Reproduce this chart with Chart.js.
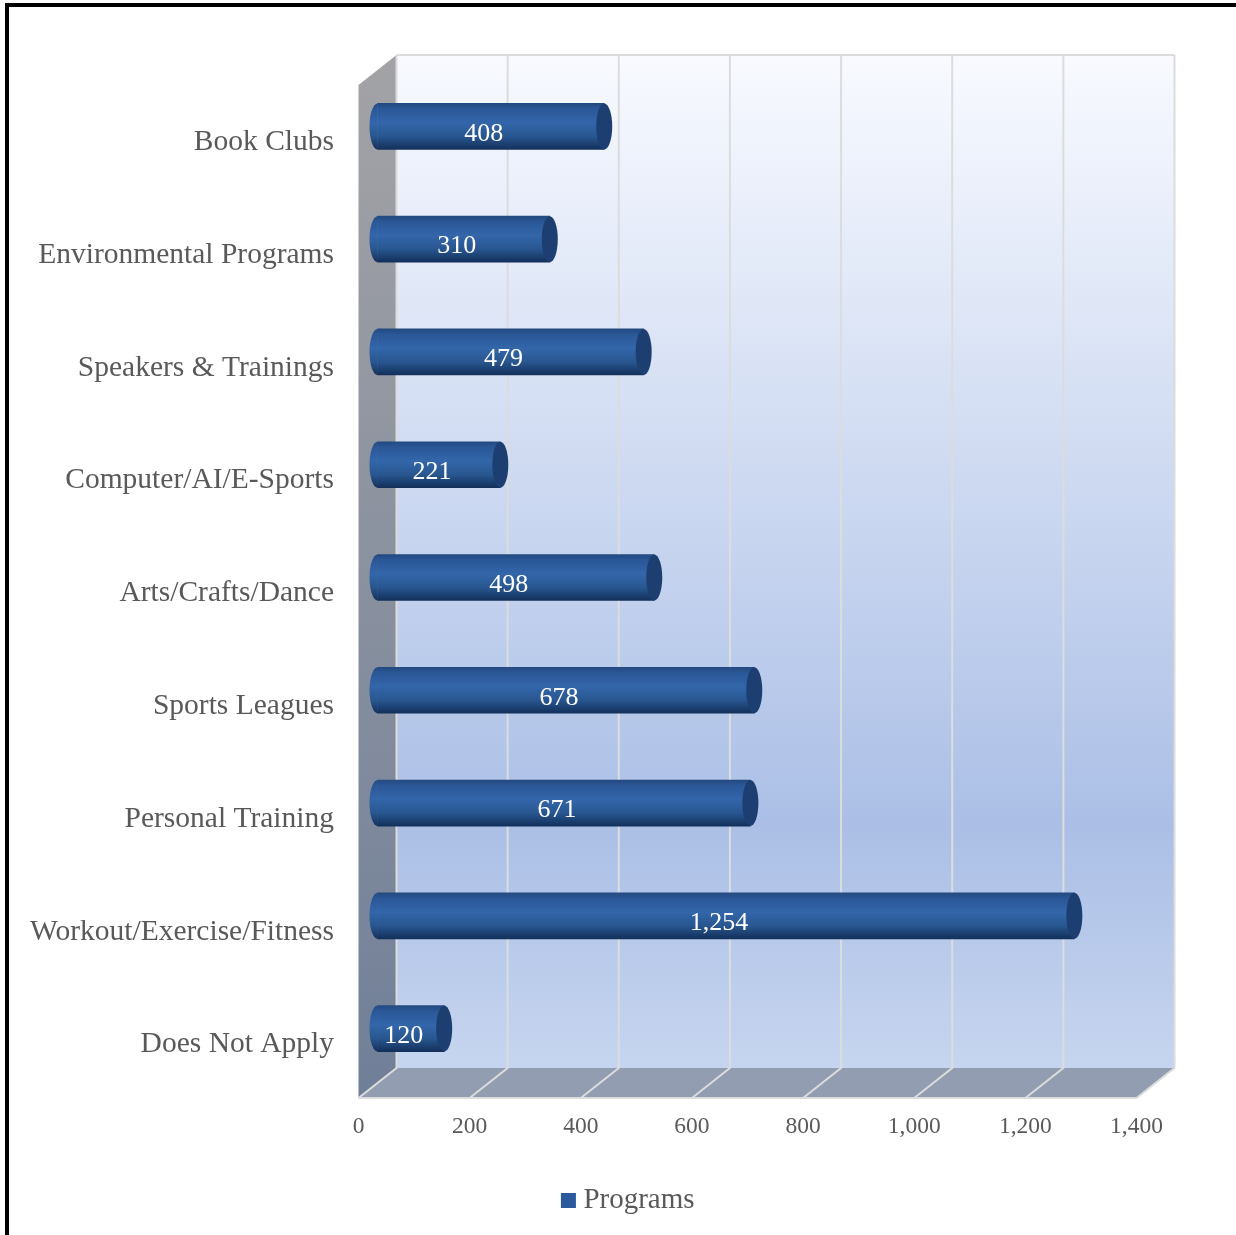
<!DOCTYPE html>
<html>
<head>
<meta charset="utf-8">
<script src="https://cdn.jsdelivr.net/npm/chart.js@4"></script>
<style>
html, body { margin: 0; padding: 0; background: #fff; overflow: hidden; }
canvas { display: block; }
</style>
</head>
<body>
<canvas id="programsChart" width="1236" height="1235"></canvas>
<script>
var categories = ['Book Clubs', 'Environmental Programs', 'Speakers & Trainings', 'Computer/AI/E-Sports',
    'Arts/Crafts/Dance', 'Sports Leagues', 'Personal Training', 'Workout/Exercise/Fitness', 'Does Not Apply'];
var programs = [408, 310, 479, 221, 498, 678, 671, 1254, 120];
var seriesName = 'Programs';
var axisTicks = [0, 200, 400, 600, 800, 1000, 1200, 1400];

var depthX = 38, depthY = 30;   // depth of the 3D box
var capRx = 8;
var barHeight = 46;
var serif = '"Liberation Serif", "Times New Roman", serif';
var tickColor = '#595959';
var barColor = '#2a5a9c';

function poly(ctx, pts) {
    ctx.beginPath();
    ctx.moveTo(pts[0][0], pts[0][1]);
    for (var i = 1; i < pts.length; i++) ctx.lineTo(pts[i][0], pts[i][1]);
    ctx.closePath();
}

function barGradient(ctx, y) {
    var g = ctx.createLinearGradient(0, y - barHeight / 2, 0, y + barHeight / 2);
    g.addColorStop(0, '#234a80');
    g.addColorStop(0.12, '#2a5797');
    g.addColorStop(0.42, '#3366aa');
    g.addColorStop(0.72, '#28568f');
    g.addColorStop(1, '#13305b');
    return g;
}

// walls, floor and grid of the 3D box, taken from the scales
var boxPlugin = {
    id: 'box3d',
    beforeDraw: function (chart) {
        var ctx = chart.ctx, a = chart.chartArea, xs = chart.scales.x;
        var l = a.left, r = a.right, t = a.top + 1, b = a.bottom - 1;
        ctx.save();

        // frame round the picture
        ctx.fillStyle = '#000';
        ctx.fillRect(5, 3, 1231, 4);
        ctx.fillRect(5, 3, 4, 1232);

        var back = ctx.createLinearGradient(0, t - depthY, 0, b - depthY);
        back.addColorStop(0, '#f8faff');
        back.addColorStop(0.76, '#abbfe6');
        back.addColorStop(1, '#c6d5ef');
        ctx.fillStyle = back;
        ctx.fillRect(l + depthX, t - depthY, r - l, b - t);

        var side = ctx.createLinearGradient(0, t - depthY, 0, b);
        side.addColorStop(0, '#a3a3a6');
        side.addColorStop(1, '#707f98');
        ctx.fillStyle = side;
        poly(ctx, [[l, t], [l + depthX, t - depthY], [l + depthX, b - depthY], [l, b]]);
        ctx.fill();

        ctx.fillStyle = '#929db2';
        poly(ctx, [[l, b], [l + depthX, b - depthY], [r + depthX, b - depthY], [r, b]]);
        ctx.fill();

        ctx.strokeStyle = '#dcdcdc';
        ctx.lineWidth = 2;
        axisTicks.forEach(function (v) {
            var x = xs.getPixelForValue(v);
            ctx.beginPath();
            ctx.moveTo(x, b);
            ctx.lineTo(x + depthX, b - depthY);
            ctx.lineTo(x + depthX, t - depthY);
            ctx.stroke();
        });
        ctx.beginPath();
        ctx.moveTo(l, b);
        ctx.lineTo(r, b);
        ctx.moveTo(l + depthX, t - depthY);
        ctx.lineTo(r + depthX, t - depthY);
        ctx.stroke();
        ctx.restore();
    },
    afterLayout: function (chart) {
        // legend sits higher and to the right of where the layout puts it
        chart.legend.left += 63;
        chart.legend.right += 63;
        chart.legend.top -= 10;
        chart.legend.bottom -= 10;
    }
};

// bars stand in the middle of the box depth, so shift them and add the cylinder ends
var cylinderPlugin = {
    id: 'cylinder',
    beforeDatasetsDraw: function (chart) {
        var ctx = chart.ctx;
        ctx.save();
        ctx.translate(depthX / 2, 1 - depthY / 2);
        chart.getDatasetMeta(0).data.forEach(function (el) {
            ctx.fillStyle = barGradient(ctx, el.y);
            ctx.beginPath();
            ctx.ellipse(el.base, el.y, capRx, barHeight / 2, 0, Math.PI / 2, Math.PI * 1.5);
            ctx.fill();
        });
    },
    afterDatasetsDraw: function (chart) {
        var ctx = chart.ctx;
        chart.getDatasetMeta(0).data.forEach(function (el) {
            ctx.fillStyle = '#1c3e70';
            ctx.beginPath();
            ctx.ellipse(el.x, el.y, capRx, barHeight / 2, 0, 0, Math.PI * 2);
            ctx.fill();
        });
        ctx.restore();

        ctx.save();
        ctx.font = '26px ' + serif;
        ctx.fillStyle = '#fff';
        ctx.textAlign = 'center';
        ctx.textBaseline = 'middle';
        chart.getDatasetMeta(0).data.forEach(function (el, i) {
            ctx.fillText(programs[i].toLocaleString('en-US'), (el.base + el.x) / 2 + 12, el.y - 6.5);
        });
        ctx.restore();
    }
};

new Chart(document.getElementById('programsChart'), {
    type: 'bar',
    data: {
        labels: categories,
        datasets: [{
            label: seriesName,
            data: programs,
            barThickness: barHeight,
            clip: false,
            borderWidth: 0,
            backgroundColor: function (c) {
                if (c.type !== 'data' || !c.chart.scales.y) return barColor;
                return barGradient(c.chart.ctx, c.chart.scales.y.getPixelForValue(c.dataIndex));
            }
        }]
    },
    options: {
        indexAxis: 'y',
        responsive: false,
        animation: false,
        layout: { padding: { left: 0, right: 99.5, top: 84, bottom: 0 } },
        scales: {
            x: {
                min: 0,
                max: 1400,
                afterBuildTicks: function (s) {
                    s.ticks = axisTicks.map(function (v) { return { value: v }; });
                },
                afterFit: function (s) { s.height = 77; },
                border: { display: false },
                grid: { display: false },
                ticks: {
                    autoSkip: false,
                    maxRotation: 0,
                    padding: 6,
                    color: tickColor,
                    font: { family: serif, size: 23.5 },
                    callback: function (v) { return v.toLocaleString('en-US'); }
                }
            },
            y: {
                afterFit: function (s) { s.width = 358.5; },
                border: { display: false },
                grid: { display: false },
                ticks: {
                    autoSkip: false,
                    padding: 16.5,
                    color: tickColor,
                    font: { family: serif, size: 29.5, lineHeight: '4px' },
                    // blank first line nudges the label down a little
                    callback: function (v) { return ['', categories[v]]; }
                }
            }
        },
        plugins: {
            tooltip: { enabled: false },
            legend: {
                position: 'bottom',
                labels: {
                    usePointStyle: true,
                    boxWidth: 1,
                    boxHeight: 15,
                    padding: 20,
                    color: tickColor,
                    font: { family: serif, size: 29 },
                    generateLabels: function () {
                        return [{ text: seriesName, fillStyle: barColor, strokeStyle: barColor, lineWidth: 0, pointStyle: 'rect', datasetIndex: 0, fontColor: tickColor }];
                    }
                }
            }
        }
    },
    plugins: [boxPlugin, cylinderPlugin]
});
</script>
</body>
</html>
